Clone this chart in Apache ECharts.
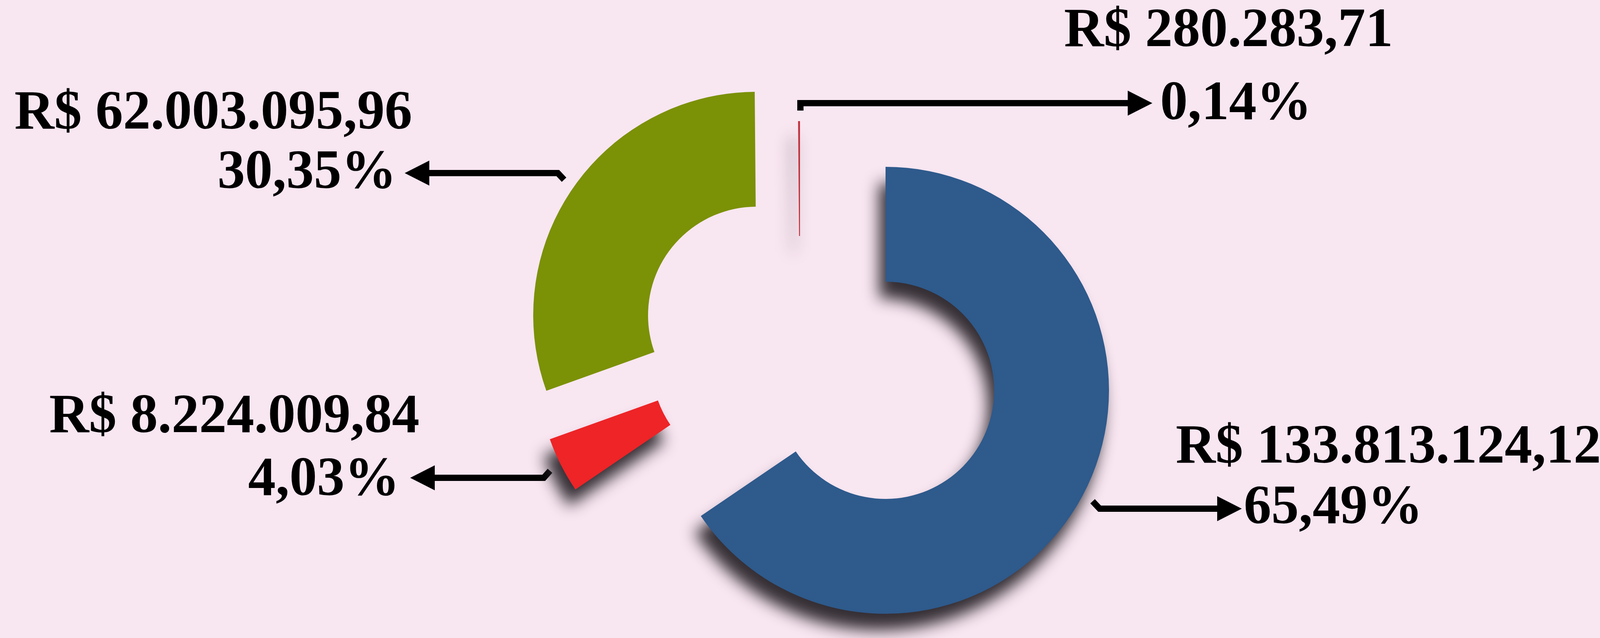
<!DOCTYPE html>
<html>
<head>
<meta charset="utf-8">
<script src="https://cdn.jsdelivr.net/npm/echarts@6/dist/echarts.min.js"></script>
<style>
  html, body { margin: 0; padding: 0; background: #F8E6F1; }
  #chart { width: 4188px; height: 1633px; }
</style>
</head>
<body>
<div id="chart"></div>
<script>
// ---- data (clockwise from 12 o'clock) ----
const categories = ['Fatia 1', 'Fatia 2', 'Fatia 3', 'Fatia 4'];
const values = [133813124.12, 8224009.84, 62003095.96, 280283.71];
const colors = ['#2E5A8C', '#EE2427', '#7B9106', '#C1343E'];

// ---- layout / style (pixels) ----
const centers = [[2267, 999], [1946, 931], [1937, 807], [2048, 882]];
const radii = [278, 572];
const hasShadow = [true, true, false, true];
const FS = 141;
// label line positions (baseline y): [value line, percent line]
const labelPos = [
  [{x: 3010, y: 1195, align: 'left'}, {x: 3184, y: 1350, align: 'left'}],
  [{x: 126, y: 1117, align: 'left'}, {x: 1023, y: 1278, align: 'right'}],
  [{x: 37, y: 340, align: 'left'}, {x: 1015, y: 492, align: 'right'}],
  [{x: 2724, y: 129, align: 'left'}, {x: 2970, y: 316, align: 'left'}]
];
// arrow paths: polyline points, then arrow tip
const arrows = [
  {pts: [[2797, 1283], [2815, 1302], [3116, 1302]], tip: [3179, 1302]},
  {pts: [[1408, 1205], [1392, 1223], [1113, 1223]], tip: [1050, 1223]},
  {pts: [[1444, 460], [1428, 443], [1099, 443]], tip: [1036, 443]},
  {pts: [[2049, 283], [2049, 264], [2887, 264]], tip: [2950, 264]}
];

const total = values.reduce((a, b) => a + b, 0);

function fmtBRL(v) {
  const parts = v.toFixed(2).split('.');
  return 'R$ ' + parts[0].replace(/\B(?=(\d{3})+(?!\d))/g, '.') + ',' + parts[1];
}
function fmtPct(v) {
  return (v / total * 100).toFixed(2).replace('.', ',') + '%';
}

const series = [];
let cum = 0;
const starts = values.map(v => { const s = cum; cum += v; return s; });
const drawOrder = [2, 3, 1, 0];
drawOrder.forEach(i => {
  const start = 90 - starts[i] / total * 360;
  const itemStyle = { color: colors[i] };
  if (hasShadow[i]) {
    Object.assign(itemStyle, {
      shadowColor: 'rgba(45,40,45,0.96)',
      shadowBlur: 38,
      shadowOffsetX: -16,
      shadowOffsetY: 42
    });
  }
  series.push({
    type: 'pie',
    name: categories[i],
    center: centers[i],
    radius: radii,
    startAngle: (start + 360) % 360,
    clockwise: true,
    silent: true,
    animation: false,
    label: { show: false },
    labelLine: { show: false },
    emphasis: { disabled: true },
    data: [
      { value: values[i], name: categories[i], itemStyle: itemStyle },
      { value: total - values[i], name: '', itemStyle: { color: 'rgba(0,0,0,0)' } }
    ]
  });
});

const graphics = [];
const FONT = 'bold ' + FS + 'px "Liberation Serif", "Times New Roman", serif';
values.forEach((v, i) => {
  const texts = [fmtBRL(v), fmtPct(v)];
  texts.forEach((t, k) => {
    const p = labelPos[i][k];
    graphics.push({
      type: 'text',
      silent: true,
      style: {
        text: t,
        x: p.x,
        y: p.y - 0.335 * FS,
        fill: '#000',
        font: FONT,
        align: p.align,
        textAlign: p.align,
        verticalAlign: 'middle',
        textVerticalAlign: 'middle'
      }
    });
  });
  const a = arrows[i];
  graphics.push({
    type: 'polyline',
    silent: true,
    shape: { points: a.pts },
    style: { stroke: '#000', lineWidth: 16, fill: null, lineJoin: 'miter', lineCap: 'butt' }
  });
  const base = a.pts[a.pts.length - 1];
  graphics.push({
    type: 'polygon',
    silent: true,
    shape: { points: [[base[0], base[1] - 32], a.tip, [base[0], base[1] + 32]] },
    style: { fill: '#000' }
  });
});

const chart = echarts.init(document.getElementById('chart'), null, { renderer: 'canvas' });
chart.setOption({
  backgroundColor: '#F8E6F1',
  animation: false,
  series: series,
  graphic: graphics
});
</script>
</body>
</html>
